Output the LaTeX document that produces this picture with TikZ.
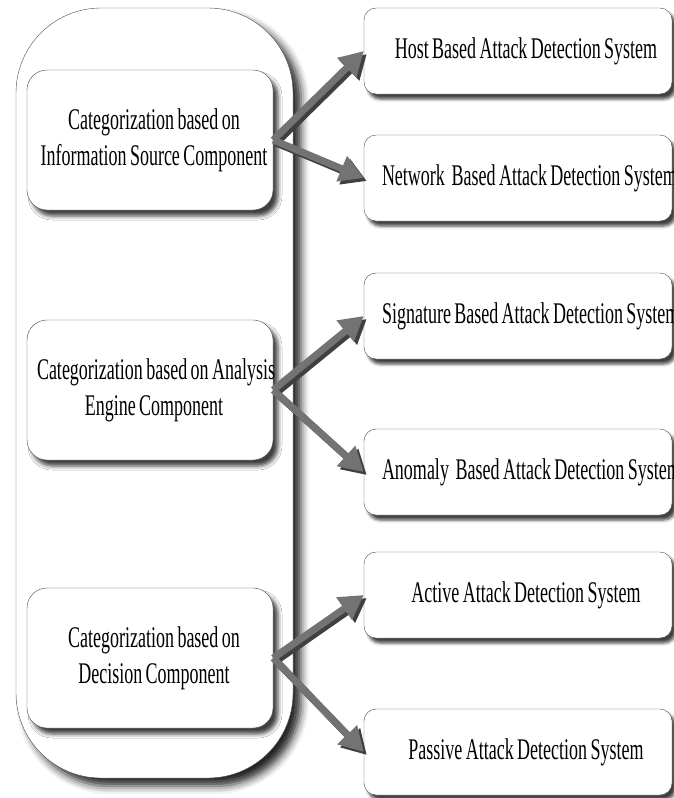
\documentclass[tikz,border=0pt]{standalone}
\usepackage{fontspec}
\setmainfont{Liberation Serif}[FakeStretch=0.6, WordSpace=0.75]
\usetikzlibrary{arrows.meta,shadows.blur}

% one unbroken line, pushed a little to the right
\newcommand{\oneline}[2][8pt]{\mbox{\kern#1#2}}

\begin{document}
\begin{tikzpicture}[x=1pt,y=-1pt,
  font=\fontsize{30}{36}\selectfont,
  catbox/.style={draw=black!70, fill=white, rounded corners=20pt,
    text width=242pt, inner xsep=2pt, minimum height=140pt, align=flush center,
    blur shadow={shadow xshift=5pt, shadow yshift=-6pt, shadow blur radius=4pt, shadow opacity=75}},
  sysbox/.style={draw=black!70, fill=white, rounded corners=12pt,
    text width=304pt, inner xsep=2pt, minimum height=86pt, align=flush center,
    blur shadow={shadow xshift=4pt, shadow yshift=-5pt, shadow blur radius=3pt, shadow opacity=75}},
  bigarrow/.style={draw=black!55, line width=7pt, -{Triangle[length=24pt,width=26pt]}},
  arrowshade/.style={draw=black!75, line width=7pt, -{Triangle[length=24pt,width=26pt]},
    transform canvas={shift={(3pt,-3pt)}}}
]
\useasboundingbox (0,0) rectangle (673,798);

% outer frame
\node[draw=black!70, fill=white, rounded corners=85pt, minimum width=277pt, minimum height=770pt,
  blur shadow={shadow xshift=8pt, shadow yshift=-8pt, shadow blur radius=8pt, shadow opacity=85}]
  (frame) at (154.5,393) {};

% categories
\node[catbox] (info) at (150,140) {\oneline{Categorization based on}\\\oneline{Information Source Component}};
\node[catbox] (engine) at (150,390) {\oneline{Categorization based on Analysis}\\\oneline{Engine Component}};
\node[catbox] (decision) at (150,658) {\oneline{Categorization based on}\\\oneline{Decision Component}};

% systems
\node[sysbox] (host) at (518,51) {\oneline[16pt]{Host Based Attack Detection System}};
\node[sysbox] (network) at (518,178) {\oneline[16pt]{Network~ Based Attack Detection System}};
\node[sysbox] (signature) at (518,316) {\oneline[16pt]{Signature Based Attack Detection System}};
\node[sysbox] (anomaly) at (518,472) {\oneline[16pt]{Anomaly~ Based Attack Detection System}};
\node[sysbox] (active) at (518,595) {\oneline[16pt]{Active Attack Detection System}};
\node[sysbox] (passive) at (518,752) {\oneline[16pt]{Passive Attack Detection System}};

% arrows
\draw[arrowshade] (info.east) -- (host.west);
\draw[arrowshade] (info.east) -- (network.west);
\draw[arrowshade] (engine.east) -- (signature.west);
\draw[arrowshade] (engine.east) -- (anomaly.west);
\draw[arrowshade] (decision.east) -- (active.west);
\draw[arrowshade] (decision.east) -- (passive.west);
\draw[bigarrow] (info.east) -- (host.west);
\draw[bigarrow] (info.east) -- (network.west);
\draw[bigarrow] (engine.east) -- (signature.west);
\draw[bigarrow] (engine.east) -- (anomaly.west);
\draw[bigarrow] (decision.east) -- (active.west);
\draw[bigarrow] (decision.east) -- (passive.west);
\end{tikzpicture}
\end{document}
